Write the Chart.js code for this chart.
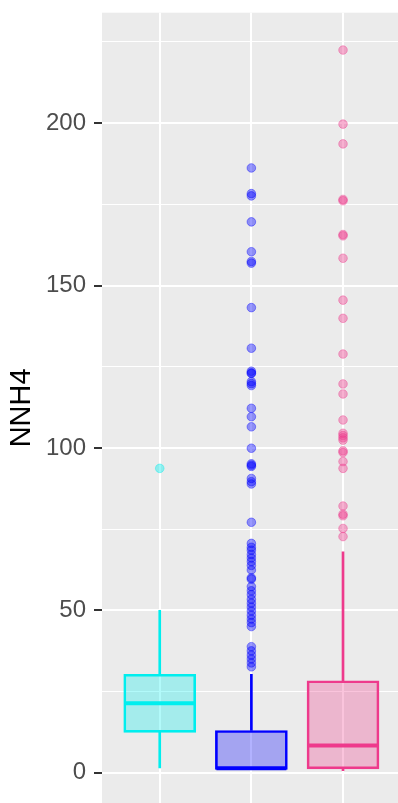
<!DOCTYPE html>
<html>
<head>
<meta charset="utf-8">
<script src="https://cdn.jsdelivr.net/npm/chart.js@4.4.1/dist/chart.umd.min.js"></script>
<style>
  body { margin: 0; background: #ffffff; }
  canvas { display: block; }
</style>
</head>
<body>
<canvas id="grafico" width="398" height="803"></canvas>
<script>
// posições dos grupos no eixo x (sem rótulos no original)
var grupos = [1, 2, 3];
var coresBorda = ['#00EEEE', '#0000FF', '#EE3A8C'];
var coresCaixa = ['rgba(0, 238, 238, 0.3)', 'rgba(0, 0, 255, 0.3)', 'rgba(238, 58, 140, 0.3)'];
var coresPontos = ['rgba(0, 238, 238, 0.4)', 'rgba(0, 0, 255, 0.4)', 'rgba(238, 58, 140, 0.4)'];

// estatísticas das caixas
var bigodeMin = [1.5, 1.0, 0.6];
var quartil1 = [12.4, 1.0, 1.2];
var mediana = [21.4, 1.4, 8.4];
var quartil3 = [30.3, 13.0, 28.3];
var bigodeMax = [50.0, 30.3, 68.0];

// outliers de cada grupo
var outliers1 = [93.7];
var outliers2 = [186.2, 178.3, 177.6, 169.6, 160.4, 157.4, 156.9, 143.2, 130.7,
    123.6, 123.1, 122.9, 120.4, 119.8, 119.2, 112.2, 109.6, 106.5, 99.9, 95.1,
    94.7, 94.3, 90.6, 89.6, 88.9, 77.1, 70.6, 69.4, 68.5, 67.2, 66.1, 65.0,
    63.8, 62.4, 60.0, 59.6, 57.3, 56.0, 54.8, 53.4, 52.2, 51.0, 49.8, 48.5,
    47.3, 46.2, 45.0, 38.8, 37.5, 36.2, 35.0, 33.8, 32.6];
var outliers3 = [222.5, 199.7, 193.6, 176.5, 176.1, 165.7, 165.3, 158.4, 145.5,
    139.9, 128.9, 119.7, 116.6, 108.6, 104.5, 103.8, 103.1, 102.4, 99.1, 98.6,
    95.8, 93.7, 82.1, 79.6, 79.1, 75.2, 72.7];

var ticksY = [0, 50, 100, 150, 200];
var tituloY = 'NNH4';

function pontos(x, valores) {
    return valores.map(function (v) { return { x: x, y: v }; });
}

var fundoPainel = {
    id: 'fundoPainel',
    beforeDraw: function (chart) {
        var a = chart.chartArea;
        var ctx = chart.ctx;
        ctx.save();
        ctx.fillStyle = '#EBEBEB';
        ctx.fillRect(a.left, a.top, a.right - a.left, a.bottom - a.top);
        ctx.restore();
    }
};

var datasets = [
    {
        type: 'bar',
        data: grupos.map(function (g, i) { return { x: g, y: [quartil3[i], bigodeMax[i]] }; }),
        backgroundColor: coresBorda,
        barThickness: 2,
        grouped: false,
        order: 4
    },
    {
        type: 'bar',
        data: grupos.map(function (g, i) { return { x: g, y: [bigodeMin[i], quartil1[i]] }; }),
        backgroundColor: coresBorda,
        barThickness: 2,
        grouped: false,
        order: 4
    },
    {
        type: 'bar',
        data: grupos.map(function (g, i) { return { x: g, y: [quartil1[i], quartil3[i]] }; }),
        backgroundColor: coresCaixa,
        borderColor: coresBorda,
        borderWidth: 2,
        borderSkipped: false,
        barThickness: 72,
        grouped: false,
        order: 3
    },
    {
        type: 'scatter',
        data: grupos.map(function (g, i) { return { x: g, y: mediana[i] }; }),
        pointStyle: 'line',
        radius: 35,
        borderWidth: 4,
        borderColor: coresBorda,
        order: 2
    }
];

[outliers1, outliers2, outliers3].forEach(function (lista, i) {
    datasets.push({
        type: 'scatter',
        data: pontos(grupos[i], lista),
        radius: 4.3,
        borderWidth: 1,
        backgroundColor: coresPontos[i],
        borderColor: coresPontos[i],
        order: 1
    });
});

var ctx = document.getElementById('grafico').getContext('2d');
new Chart(ctx, {
    type: 'bar',
    data: { datasets: datasets },
    options: {
        responsive: false,
        animation: false,
        events: [],
        layout: { autoPadding: false, padding: { top: 12.7, right: 0, bottom: 0, left: 0 } },
        plugins: {
            legend: { display: false },
            tooltip: { enabled: false }
        },
        scales: {
            x: {
                type: 'linear',
                min: 0.37,
                max: 3.6,
                offset: false,
                border: { display: false },
                afterFit: function (scale) {
                    scale.height = 0;
                    scale.paddingLeft = 0;
                    scale.paddingRight = 0;
                },
                grid: { color: '#FFFFFF', lineWidth: 2, drawTicks: false, offset: false },
                ticks: { display: false, stepSize: 1, includeBounds: false }
            },
            y: {
                min: -9.33,
                max: 234,
                border: { display: false },
                afterFit: function (scale) {
                    scale.width = 102;
                    scale.paddingTop = 0;
                    scale.paddingBottom = 0;
                },
                grid: {
                    color: '#FFFFFF',
                    lineWidth: function (c) { return ticksY.indexOf(c.tick.value) >= 0 ? 2 : 1; },
                    tickColor: function (c) { return ticksY.indexOf(c.tick.value) >= 0 ? '#333333' : 'rgba(0,0,0,0)'; },
                    tickWidth: 2,
                    tickLength: 8
                },
                ticks: {
                    stepSize: 25,
                    includeBounds: false,
                    autoSkip: false,
                    padding: 8,
                    color: '#4D4D4D',
                    font: { family: "'Liberation Sans', Arial, sans-serif", size: 24 },
                    callback: function (v) { return ticksY.indexOf(v) >= 0 ? String(v) : ''; }
                },
                title: {
                    display: true,
                    text: tituloY,
                    color: '#000000',
                    padding: { top: 5, bottom: 0 },
                    font: { family: "'Liberation Sans', Arial, sans-serif", size: 29 }
                }
            }
        }
    },
    plugins: [fundoPainel]
});
</script>
</body>
</html>
